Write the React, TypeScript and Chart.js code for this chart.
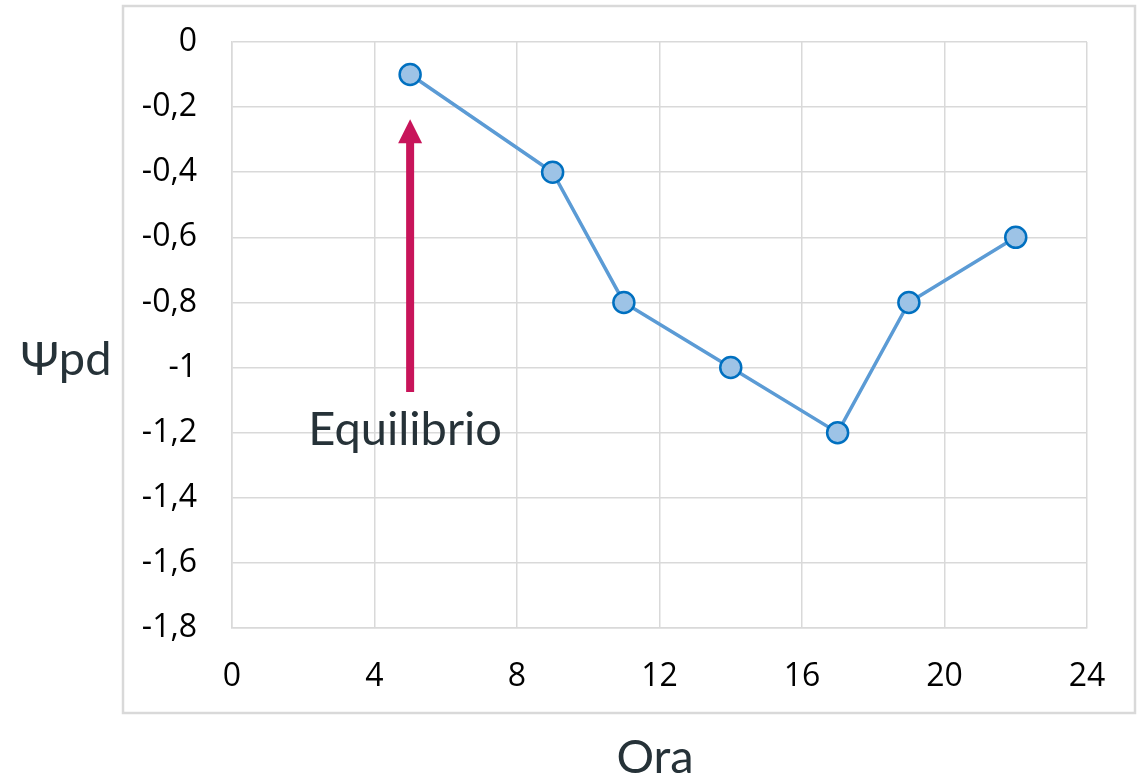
import React, { useEffect, useRef } from "react";
import { Chart, registerables } from "chart.js";

Chart.register(...registerables);

const hours = [5, 9, 11, 14, 17, 19, 22];
const psiValues = [-0.1, -0.4, -0.8, -1.0, -1.2, -0.8, -0.6];
const xTicks = [0, 4, 8, 12, 16, 20, 24];
const yTicks = [0, -0.2, -0.4, -0.6, -0.8, -1, -1.2, -1.4, -1.6, -1.8];
const xTitle = "Ora";
const yTitle = "Ψpd";
const annotationText = "Equilibrio";
const arrowX = 5;
const arrowFromY = -1.075;
const arrowToY = -0.237;
const annotationTextX = 4.86;
const annotationTextY = -1.19;

const fmt = (v: number) => {
  const r = Math.round(v * 10) / 10;
  if (r === 0) return "0";
  return String(r).replace(".", ",");
};

export default function App() {
  const ref = useRef<HTMLCanvasElement | null>(null);

  useEffect(() => {
    if (!ref.current) return;
    const decor = {
      id: "decor",
      beforeDraw(chart: any) {
        const c = chart.ctx;
        c.save();
        c.strokeStyle = "#d9d9d9";
        c.lineWidth = 2.5;
        c.strokeRect(123, 6, 1012, 707);
        c.restore();
      },
      afterDraw(chart: any) {
        const c = chart.ctx;
        const xs = chart.scales.x;
        const ys = chart.scales.y;
        c.save();
        const ax = xs.getPixelForValue(arrowX);
        const y0 = ys.getPixelForValue(arrowFromY);
        const y1 = ys.getPixelForValue(arrowToY);
        const headLen = 24;
        const headW = 12;
        c.strokeStyle = "#c8145a";
        c.fillStyle = "#c8145a";
        c.lineWidth = 8;
        c.beginPath();
        c.moveTo(ax, y0);
        c.lineTo(ax, y1 + headLen - 1);
        c.stroke();
        c.beginPath();
        c.moveTo(ax, y1);
        c.lineTo(ax - headW, y1 + headLen);
        c.lineTo(ax + headW, y1 + headLen);
        c.closePath();
        c.fill();
        c.fillStyle = "#263238";
        c.textAlign = "center";
        c.textBaseline = "middle";
        c.font = "47px Lato";
        c.fillText(
          annotationText,
          xs.getPixelForValue(annotationTextX),
          ys.getPixelForValue(annotationTextY)
        );
        c.fillText(xTitle, 655, 758);
        c.fillText(yTitle, 66, 360);
        c.restore();
      },
    };

    const chart = new Chart(ref.current, {
      type: "line",
      data: {
        datasets: [
          {
            data: hours.map((h, i) => ({ x: h, y: psiValues[i] })),
            borderColor: "#5b9bd5",
            borderWidth: 3.5,
            pointRadius: 10.5,
            pointHoverRadius: 10.5,
            pointBackgroundColor: "#9dc3e6",
            pointBorderColor: "#0070c0",
            pointBorderWidth: 2.5,
            tension: 0,
          },
        ],
      },
      options: {
        animation: false,
        responsive: true,
        maintainAspectRatio: false,
        layout: { padding: { left: 123, top: 42, right: 56, bottom: 65 } },
        plugins: { legend: { display: false }, tooltip: { enabled: false } },
        scales: {
          x: {
            type: "linear",
            min: 0,
            max: 24,
            afterBuildTicks: (s: any) => {
              s.ticks = xTicks.map((v) => ({ value: v }));
            },
            afterFit: (s: any) => {
              s.height = 85;
              s.paddingLeft = 0;
              s.paddingRight = 0;
            },
            grid: { color: "#d9d9d9", lineWidth: 1.5, drawTicks: false },
            border: { color: "#d9d9d9", width: 1.5 },
            ticks: {
              padding: 30,
              color: "#000",
              font: { family: "Open Sans", size: 32 },
              callback: (v: any) => fmt(Number(v)),
            },
          },
          y: {
            type: "linear",
            min: -1.8,
            max: 0,
            afterBuildTicks: (s: any) => {
              s.ticks = yTicks.map((v) => ({ value: v }));
            },
            afterFit: (s: any) => {
              s.width = 109;
              s.paddingTop = 0;
              s.paddingBottom = 0;
            },
            grid: { color: "#d9d9d9", lineWidth: 1.5, drawTicks: false },
            border: { color: "#d9d9d9", width: 1.5 },
            ticks: {
              padding: 35,
              color: "#000",
              font: { family: "Open Sans", size: 32 },
              callback: (v: any) => fmt(Number(v)),
            },
          },
        },
      },
      plugins: [decor],
    });
    return () => chart.destroy();
  }, []);

  return (
    <div style={{ position: "absolute", left: 0, top: 0, width: 1143, height: 778, background: "#fff" }}>
      <canvas ref={ref} />
    </div>
  );
}
